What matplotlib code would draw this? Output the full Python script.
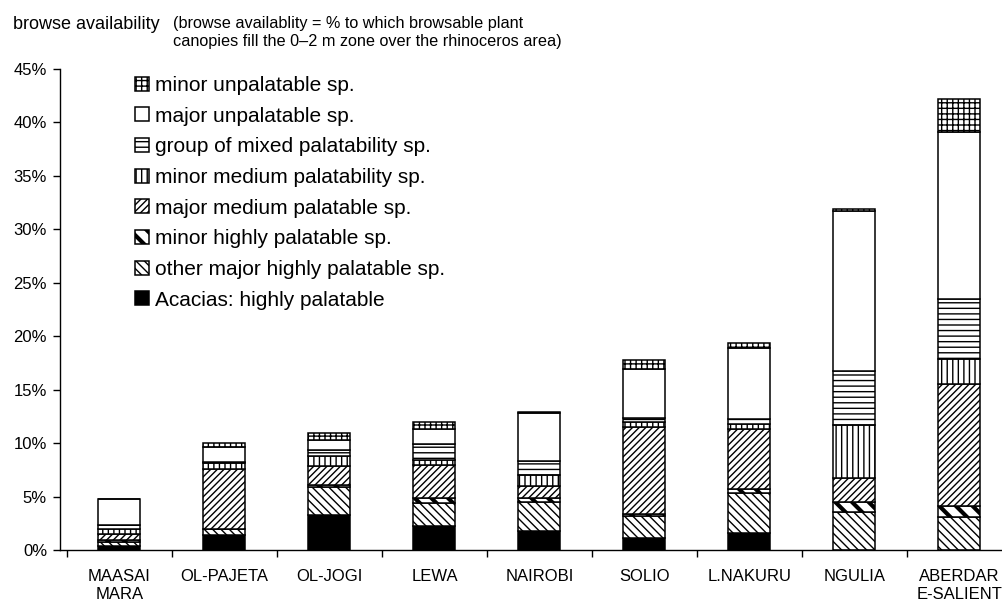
import matplotlib
matplotlib.use('Agg')
import matplotlib.pyplot as plt
import matplotlib.ticker as ticker

# --- data (% browse availability, stacked bottom -> top) ---
sites = ['MAASAI\nMARA', 'OL-PAJETA', 'OL-JOGI', 'LEWA', 'NAIROBI',
         'SOLIO', 'L.NAKURU', 'NGULIA', 'ABERDAR\nE-SALIENT']

acacias = [0.37, 1.40, 3.28, 2.25, 1.78, 1.09, 1.62, 0.00, 0.00]
other_major_hp = [0.34, 0.56, 2.59, 2.19, 2.75, 2.12, 3.74, 3.55, 3.06]
minor_hp = [0.22, 0.05, 0.19, 0.41, 0.37, 0.16, 0.31, 0.97, 1.06]
major_med = [0.56, 5.58, 1.84, 3.06, 1.09, 8.17, 5.61, 2.24, 11.41]
minor_med = [0.47, 0.56, 0.94, 0.53, 1.03, 0.41, 0.50, 4.96, 2.34]
mixed = [0.37, 0.10, 0.53, 1.47, 1.31, 0.37, 0.47, 5.02, 5.61]
major_unpal = [2.43, 1.37, 0.94, 1.40, 4.53, 4.61, 6.61, 15.00, 15.65]
minor_unpal = [0.00, 0.40, 0.62, 0.66, 0.02, 0.81, 0.53, 0.12, 3.03]

y_ticks = [0, 5, 10, 15, 20, 25, 30, 35, 40, 45]

series = [
    ('Acacias: highly palatable', acacias, 'black', None, 1.0),
    ('other major highly palatable sp.', other_major_hp, 'white', '\\' * 4, 1.0),
    ('minor highly palatable sp.', minor_hp, 'white', '\\' * 2, 3.0),
    ('major medium palatable sp.', major_med, 'white', '/' * 5, 1.0),
    ('minor medium palatability sp.', minor_med, 'white', '|' * 3, 1.0),
    ('group of mixed palatability sp.', mixed, 'white', '-' * 3, 1.0),
    ('major unpalatable sp.', major_unpal, 'white', None, 1.0),
    ('minor unpalatable sp.', minor_unpal, 'white', '+' * 3, 1.0),
]

plt.rcParams['font.family'] = ['Liberation Sans', 'DejaVu Sans']
plt.rcParams['hatch.color'] = 'black'

W, H = 1002, 602
fig = plt.figure(figsize=(W / 100, H / 100), dpi=100)
ax = fig.add_axes([59.5 / W, 52 / H, (1012 - 59.5) / W, 481 / H])

x = list(range(len(sites)))
bottom = [0.0] * len(sites)
handles = []
for label, vals, fc, hatch, hlw in series:
    with plt.rc_context({'hatch.linewidth': hlw}):
        bars = ax.bar(x, vals, width=0.4, bottom=bottom, color=fc,
                      edgecolor='black', linewidth=1.1, hatch=hatch, label=label)
    for p in bars.patches:
        if hasattr(p, 'set_hatch_linewidth'):
            p.set_hatch_linewidth(hlw)
    handles.append(bars)
    bottom = [b + v for b, v in zip(bottom, vals)]

ax.set_xlim(-0.571, 8.5)
ax.set_ylim(0, 45)
ax.set_yticks(y_ticks)
ax.yaxis.set_major_formatter(ticker.FuncFormatter(lambda v, p: f"{v:.0f}%"))
ax.tick_params(axis='y', direction='out', length=5, width=1, pad=4, labelsize=12)

# category boundaries as ticks, names centred between them
ax.set_xticks([i - 0.5 for i in range(len(sites) + 1)])
ax.set_xticklabels([])
ax.set_xticks(x, minor=True)
ax.set_xticklabels(sites, minor=True, fontsize=12, linespacing=1.25)
ax.tick_params(axis='x', which='major', direction='out', length=5, width=1)
ax.tick_params(axis='x', which='minor', length=0, pad=14)

for s in ['top', 'right']:
    ax.spines[s].set_visible(False)
for s in ['left', 'bottom']:
    ax.spines[s].set_linewidth(1.0)

leg = ax.legend(handles[::-1], [s[0] for s in series][::-1],
                loc='upper left', bbox_to_anchor=(135 / W, 1 - 76 / H),
                bbox_transform=fig.transFigure, frameon=False, fontsize=15,
                handlelength=0.65, handleheight=0.65, handletextpad=0.3,
                labelspacing=0.56, borderpad=0, borderaxespad=0)
# thick stripes for the legend box too
hlws = [s[4] for s in series][::-1]
for lh, hlw in zip(leg.legend_handles, hlws):
    if hasattr(lh, 'set_hatch_linewidth'):
        lh.set_hatch_linewidth(hlw)

fig.text(12.7 / W, 1 - 29 / H, 'browse availability', fontsize=13, va='baseline')
fig.text(173 / W, 1 - 28 / H, '(browse availablity = % to which browsable plant',
         fontsize=11.7, va='baseline')
fig.text(173 / W, 1 - 46 / H, 'canopies fill the 0\u20132 m zone over the rhinoceros area)',
         fontsize=11.7, va='baseline')

plt.savefig('out.png', dpi=100)
plt.close()
